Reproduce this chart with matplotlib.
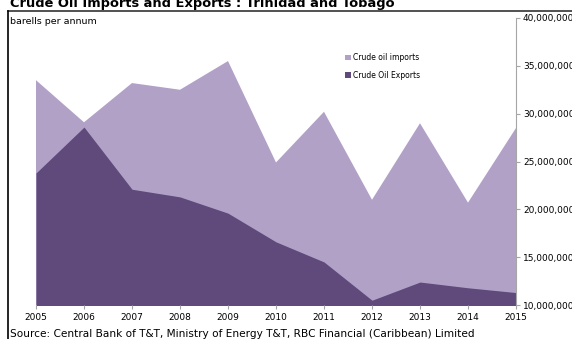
import matplotlib.pyplot as plt
from matplotlib.lines import Line2D
import matplotlib.ticker as mticker

years = [2005, 2006, 2007, 2008, 2009, 2010, 2011, 2012, 2013, 2014, 2015]
imports = [33.5e6, 29.1e6, 33.2e6, 32.5e6, 35.5e6, 24.9e6, 30.2e6, 21.0e6, 29.0e6, 20.7e6, 28.5e6]
exports = [23.8e6, 28.6e6, 22.1e6, 21.3e6, 19.6e6, 16.6e6, 14.5e6, 10.5e6, 12.4e6, 11.8e6, 11.3e6]

light = '#b1a1c7'
dark = '#5f4a7b'

fig = plt.figure(figsize=(5.72, 3.39), dpi=100)
ax = fig.add_axes([36 / 572, 1 - 305 / 339, 480 / 572, 287 / 339])

ax.fill_between(years, imports, 0, color=light, lw=0, label='Crude oil imports')
ax.fill_between(years, exports, 0, color=dark, lw=0, label='Crude Oil Exports')

ax.set_xlim(2005, 2015)
ax.set_ylim(10e6, 40e6)
ax.set_xticks(years)
ax.set_yticks([10e6, 15e6, 20e6, 25e6, 30e6, 35e6, 40e6])
ax.yaxis.set_major_formatter(mticker.FuncFormatter(lambda v, p: '{:,.0f}'.format(v)))
ax.yaxis.tick_right()

for s in ['left', 'top', 'bottom']:
    ax.spines[s].set_visible(False)
ax.spines['right'].set_color('#a6a6a6')
ax.tick_params(axis='y', colors='#a6a6a6', labelcolor='black', labelsize=6.5, length=3, pad=2)
ax.tick_params(axis='x', colors='#a6a6a6', labelcolor='black', labelsize=6.5, length=3, pad=3)

ax.legend(loc='upper left', bbox_to_anchor=(0.63, 0.902), frameon=False, fontsize=5.5,
          handlelength=0.7, handleheight=0.7, handletextpad=0.3, labelspacing=1.15)

# frame lines and texts
fig.add_artist(Line2D([8 / 572, 1], [1 - 11 / 339, 1 - 11 / 339], color='#333333', lw=1.2))
fig.add_artist(Line2D([8 / 572, 8 / 572], [0, 1 - 11 / 339], color='black', lw=1.2))
fig.text(10 / 572, 1 - 3 / 339, 'Crude Oil Imports and Exports : Trinidad and Tobago',
         fontsize=9.4, fontweight='bold', va='center', ha='left')
fig.text(10 / 572, 1 - 22 / 339, 'barells per annum', fontsize=6.8, va='center', ha='left')
fig.text(10 / 572, 1 - 334 / 339,
         'Source: Central Bank of T&T, Ministry of Energy T&T, RBC Financial (Caribbean) Limited',
         fontsize=7.6, va='center', ha='left')

fig.savefig('out.png', dpi=100)
